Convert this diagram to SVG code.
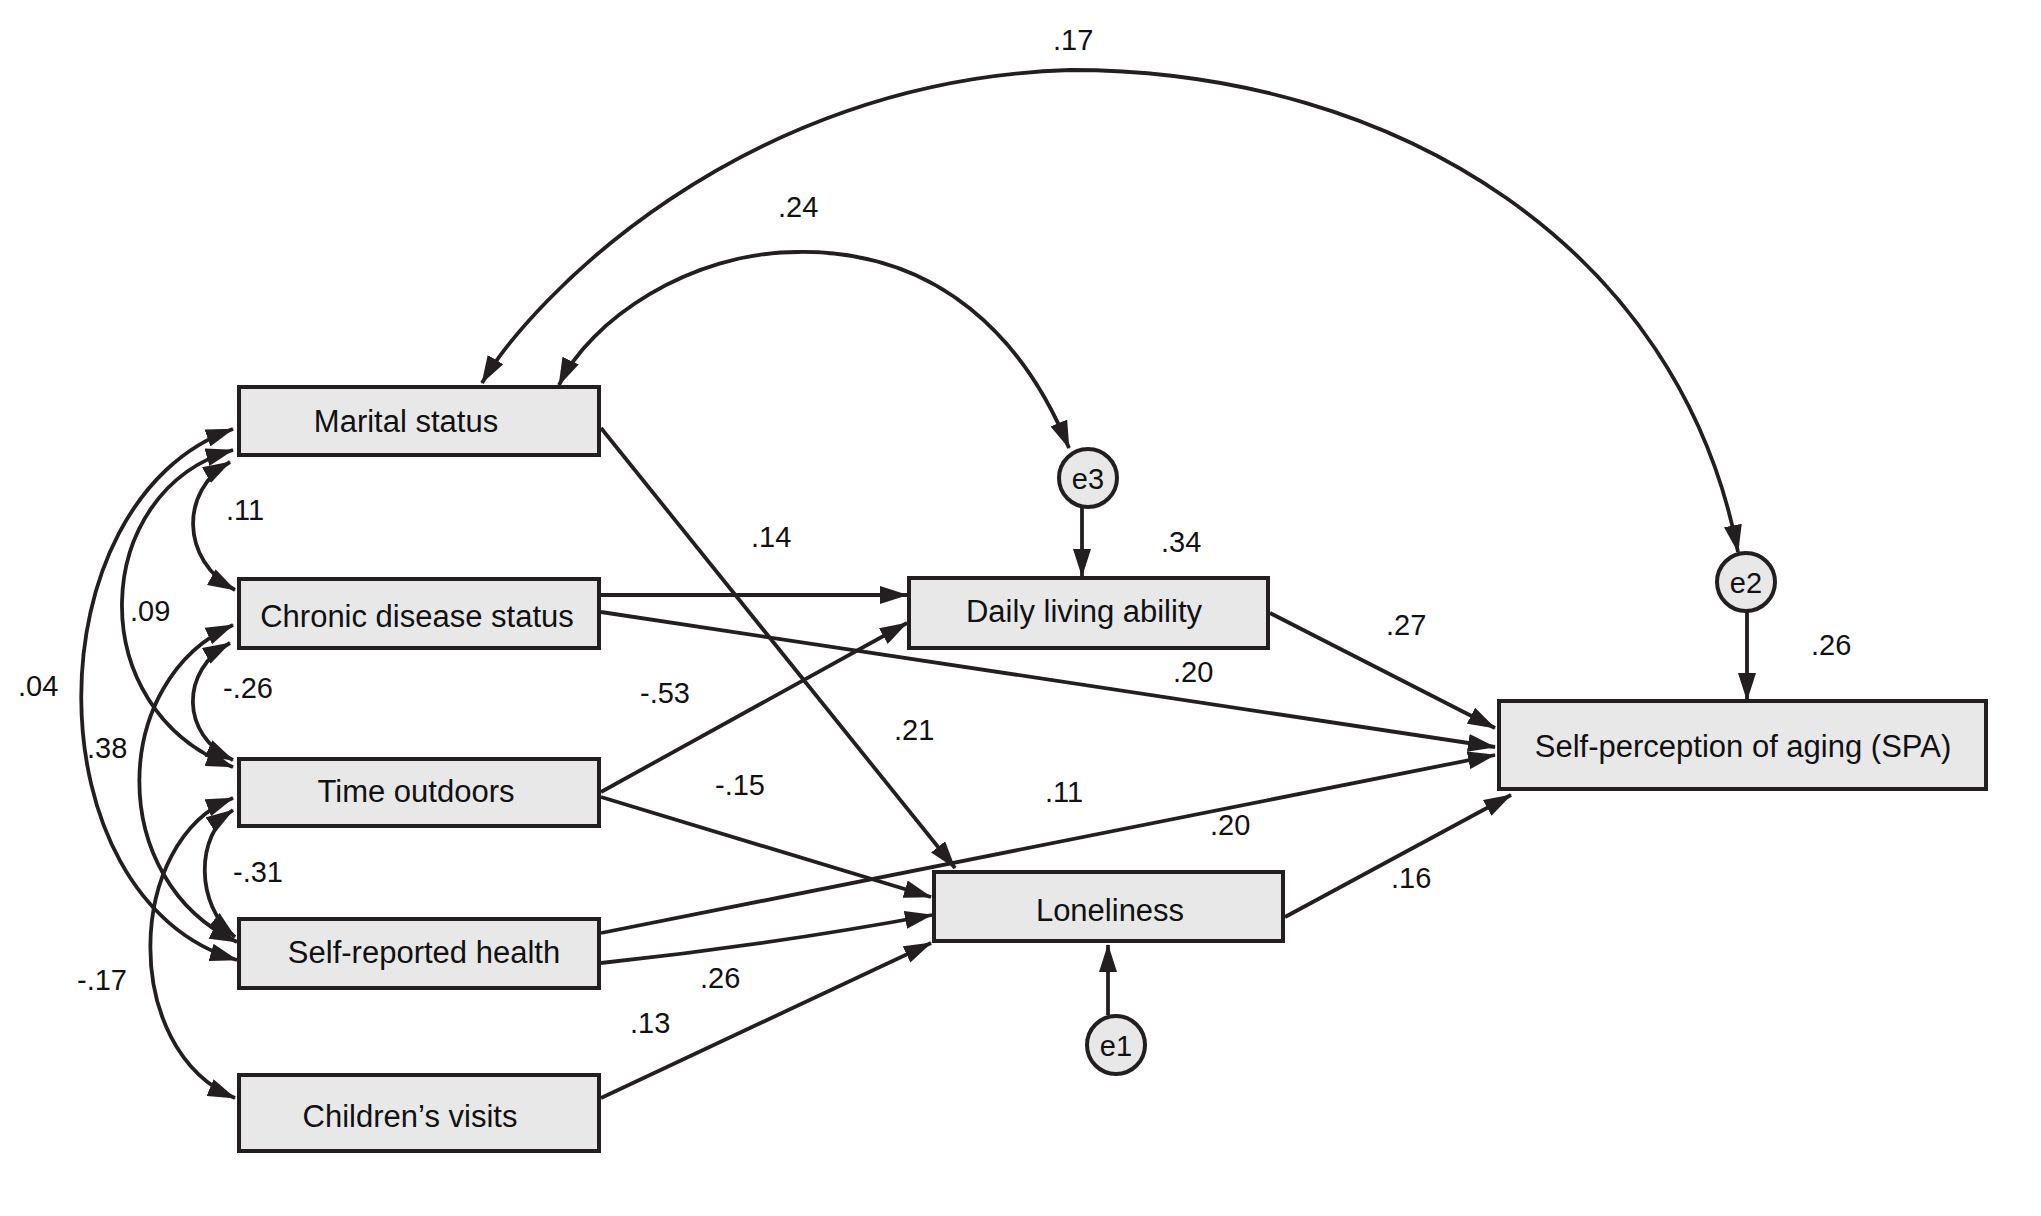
<svg xmlns="http://www.w3.org/2000/svg" width="2041" height="1216" viewBox="0 0 2041 1216">
<defs>
<style>
.box{fill:#e8e8e8;stroke:#231f20;stroke-width:4}
.err{fill:#e8e8e8;stroke:#231f20;stroke-width:4}
.lbl{font-family:"Liberation Sans",Arial,sans-serif;font-size:31px;fill:#111;text-anchor:middle}
.elbl{font-family:"Liberation Sans",Arial,sans-serif;font-size:29px;fill:#111;text-anchor:middle}
.num{font-family:"Liberation Sans",Arial,sans-serif;font-size:29px;fill:#111}
.c{fill:none;stroke:#231f20;stroke-width:3.8}
.a{marker-end:url(#ah)}
.b{marker-start:url(#ah);marker-end:url(#ah)}
</style>
<marker id="ah" markerUnits="userSpaceOnUse" viewBox="0 0 28 18" markerWidth="28" markerHeight="18" refX="27" refY="9" orient="auto-start-reverse">
<path d="M0,0 L28,9 L0,18 z" fill="#231f20"/>
</marker>
</defs>
<rect width="2041" height="1216" fill="#fff"/>

<g id="connectors">
<path class="c a" d="M601,428 L955,868"/>
<path class="c a" d="M601,595 L907,595"/>
<path class="c a" d="M601,612 L1495,747"/>
<path class="c a" d="M601,792 L907,623"/>
<path class="c a" d="M601,797 L931,897"/>
<path class="c a" d="M601,933 L1495,755"/>
<path class="c a" d="M601,963 Q770,945 932,915"/>
<path class="c a" d="M601,1098 L931,943"/>
<path class="c a" d="M1270,613 L1495,728"/>
<path class="c a" d="M1285,917 L1511,795"/>
<path class="c a" d="M1082,507 L1082,576"/>
<path class="c a" d="M1108,1015 L1108,945"/>
<path class="c a" d="M1747,612 L1747,700"/>
<path class="c b" d="M1069,448 C1025,340 940,250 798,252 C690,252 590,320 559,385"/>
<path class="c b" d="M1738,552 C1680,250 1400,70 1070,70 C740,80 530,300 482,383"/>
<path class="c b" d="M230,462 C180,490 180,560 235,590"/>
<path class="c b" d="M230,643 C180,670 180,735 233,760"/>
<path class="c b" d="M233,810 C195,835 195,905 235,937"/>
<path class="c b" d="M233,450 C90,490 80,710 233,767"/>
<path class="c b" d="M233,429 C30,500 30,900 237,960"/>
<path class="c b" d="M233,625 C110,680 105,880 237,942"/>
<path class="c b" d="M233,798 C125,840 120,1050 235,1098"/>
</g>

<g id="labels">
<text class="num" x="1053" y="50">.17</text>
<text class="num" x="778" y="217">.24</text>
<text class="num" x="226" y="520">.11</text>
<text class="num" x="130" y="621">.09</text>
<text class="num" x="18" y="696">.04</text>
<text class="num" x="223" y="698">-.26</text>
<text class="num" x="87" y="758">.38</text>
<text class="num" x="233" y="882">-.31</text>
<text class="num" x="77" y="990">-.17</text>
<text class="num" x="751" y="547">.14</text>
<text class="num" x="1161" y="552">.34</text>
<text class="num" x="1173" y="682">.20</text>
<text class="num" x="640" y="703">-.53</text>
<text class="num" x="894" y="740">.21</text>
<text class="num" x="1386" y="635">.27</text>
<text class="num" x="1811" y="655">.26</text>
<text class="num" x="715" y="795">-.15</text>
<text class="num" x="1045" y="802">.11</text>
<text class="num" x="1210" y="835">.20</text>
<text class="num" x="700" y="988">.26</text>
<text class="num" x="630" y="1033">.13</text>
<text class="num" x="1391" y="888">.16</text>
</g>

<g id="marital"><rect class="box" x="239" y="387" width="360" height="68"/><text class="lbl" x="406" y="432">Marital status</text></g>
<g id="chronic"><rect class="box" x="239" y="579" width="360" height="69"/><text class="lbl" x="417" y="627">Chronic disease status</text></g>
<g id="time"><rect class="box" x="239" y="759" width="360" height="67"/><text class="lbl" x="416" y="802">Time outdoors</text></g>
<g id="health"><rect class="box" x="239" y="919" width="360" height="69"/><text class="lbl" x="424" y="963">Self-reported health</text></g>
<g id="children"><rect class="box" x="239" y="1075" width="360" height="76"/><text class="lbl" x="410" y="1127">Children’s visits</text></g>
<g id="daily"><rect class="box" x="909" y="578" width="359" height="70"/><text class="lbl" x="1084" y="622">Daily living ability</text></g>
<g id="loneliness"><rect class="box" x="934" y="872" width="349" height="69"/><text class="lbl" x="1110" y="921">Loneliness</text></g>
<g id="spa"><rect class="box" x="1499" y="701" width="487" height="88"/><text class="lbl" x="1743" y="757">Self-perception of aging (SPA)</text></g>
<g id="e3"><circle class="err" cx="1088" cy="478" r="29"/><text class="elbl" x="1088" y="489">e3</text></g>
<g id="e1"><circle class="err" cx="1116" cy="1045" r="29"/><text class="elbl" x="1116" y="1056">e1</text></g>
<g id="e2"><circle class="err" cx="1746" cy="582" r="29"/><text class="elbl" x="1746" y="593">e2</text></g>
</svg>
